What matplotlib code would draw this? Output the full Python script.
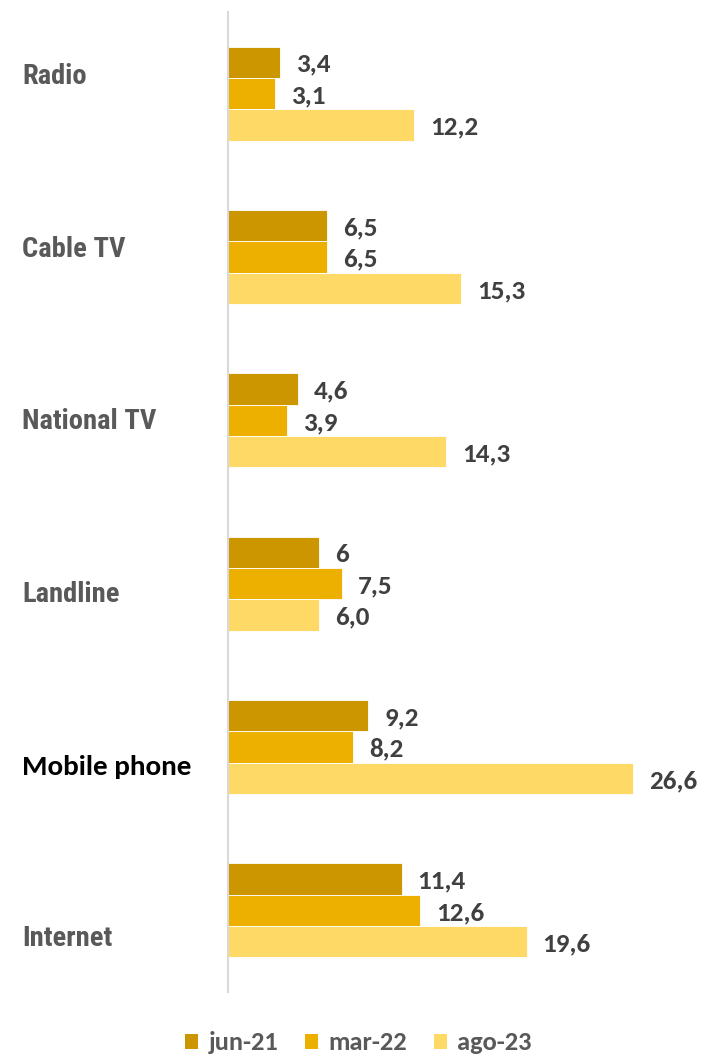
"""Grouped horizontal bars of service usage across three survey waves."""

import matplotlib.pyplot as plt
import numpy as np
from matplotlib.patches import Patch

CATEGORIES = ["Radio", "Cable TV", "National TV", "Landline", "Mobile phone", "Internet"]
SERIES = ["jun-21", "mar-22", "ago-23"]
JUN_21 = [3.4, 6.5, 4.6, 6.0, 9.2, 11.4]
MAR_22 = [3.1, 6.5, 3.9, 7.5, 8.2, 12.6]
AGO_23 = [12.2, 15.3, 14.3, 6.0, 26.6, 19.6]
VALUE_TEXT = [
    ["3,4", "6,5", "4,6", "6", "9,2", "11,4"],
    ["3,1", "6,5", "3,9", "7,5", "8,2", "12,6"],
    ["12,2", "15,3", "14,3", "6,0", "26,6", "19,6"],
]
COLORS = ["#CC9600", "#EDB000", "#FFD966"]
NARROW = ["Roboto Condensed", "IBM Plex Sans Condensed", "DejaVu Sans"]

W, H = 703, 1056
fig = plt.figure(figsize=(W / 100, H / 100), dpi=100)
ax = fig.add_axes([228 / W, 1 - 992 / H, 457 / W, 980 / H])

y = np.arange(len(CATEGORIES))
bar_h = 0.192
for k, (vals, color) in enumerate(zip([JUN_21, MAR_22, AGO_23], COLORS)):
    pos = y + (k - 1) * bar_h
    ax.barh(pos, vals, height=bar_h, color=color, edgecolor="white", linewidth=0.6)
    for p, v, txt in zip(pos, vals, VALUE_TEXT[k]):
        ax.annotate(txt, (v, p), xytext=(11.5, -1.5), textcoords="offset points",
                    va="center", ha="left", fontsize=19.5, fontweight="bold",
                    family="Carlito", color="#404040")

ax.set_xlim(0, 30)
ax.set_ylim(len(CATEGORIES) - 0.5, -0.5)
ax.set_xticks([])
ax.set_yticks([])
for side in ["top", "right", "bottom"]:
    ax.spines[side].set_visible(False)
ax.spines["left"].set_color("#D9D9D9")
ax.spines["left"].set_linewidth(1.5)

# category names sit in their own text boxes, spaced a bit wider than the groups
label_y = np.linspace(77, 939, len(CATEGORIES))
for name, ly in zip(CATEGORIES, label_y):
    if name == "Mobile phone":
        fig.text(22 / W, 1 - ly / H, name, ha="left", va="center", fontsize=21,
                 fontweight="bold", family="Carlito", color="black")
    else:
        fig.text(22 / W, 1 - ly / H, name, ha="left", va="center", fontsize=20.5,
                 fontweight="bold", family=NARROW, color="#595959")

handles = [Patch(facecolor=c, label=s) for c, s in zip(COLORS, SERIES)]
fig.legend(handles=handles, loc="center", bbox_to_anchor=(0.51, 1 - 1043 / H),
           ncol=3, frameon=False, handlelength=0.5, handleheight=0.5,
           handletextpad=0.4, columnspacing=1.0,
           prop={"family": "Carlito", "weight": "bold", "size": 19}, labelcolor="#595959")

fig.savefig("out.png", dpi=100)
